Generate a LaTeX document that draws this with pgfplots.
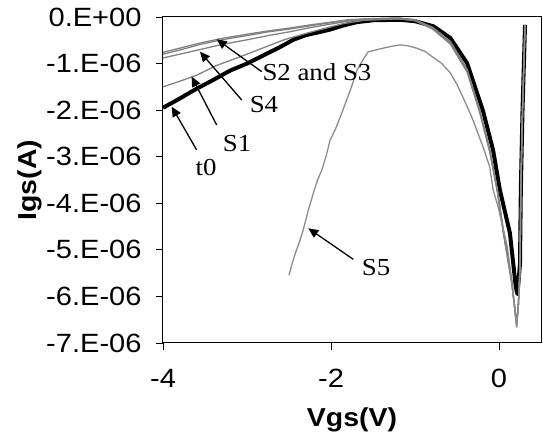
\documentclass[border=0pt]{standalone}
\usepackage{fontspec}
\setmainfont[FakeStretch=1.1]{Liberation Sans}
\newfontfamily\seriffont[FakeStretch=1.1]{Liberation Serif}
\usepackage{pgfplots}
\pgfplotsset{compat=1.18}
\usetikzlibrary{arrows.meta}
\definecolor{cgray}{RGB}{128,128,128}
\definecolor{cgrayb}{RGB}{140,140,140}
\begin{document}
\begin{tikzpicture}
\begin{axis}[
  name=ax,
  scale only axis,
  width=378bp, height=326bp,
  xmin=-4, xmax=0.5, ymin=-7, ymax=0,
  xtick={-4,-2,0}, xticklabels={{-4},{-2},{0}},
  ytick={-7,-6,-5,-4,-3,-2,-1,0},
  yticklabels={{-7.E-06},{-6.E-06},{-5.E-06},{-4.E-06},{-3.E-06},{-2.E-06},{-1.E-06},{0.E+00}},
  tick align=outside, tick pos=left,
  major tick length=7bp,
  axis line style={line width=1pt},
  every tick/.style={line width=0.8pt, black},
  ticklabel style={font=\fontsize{26.5}{30}\selectfont},
  /pgf/number format/assume math mode=true,
  yticklabel style={xshift=-11bp},
  xticklabel style={yshift=-16bp},
  xlabel={\bfseries Vgs(V)},
  ylabel={\bfseries Igs(A)},
  label style={font=\fontsize{26}{30}\selectfont},
  xlabel style={at={(axis description cs:0.5,0)}, anchor=center, yshift=-77bp},
  ylabel style={at={(axis description cs:-0.352,0.5)}, anchor=center},
  clip=false,
]
% t0 (black thick)
\addplot[black, line width=4pt, line join=round] coordinates {
(-4.00,-1.95) (-3.80,-1.75) (-3.60,-1.54) (-3.40,-1.35) (-3.20,-1.15)
(-3.00,-1.00) (-2.80,-0.82) (-2.60,-0.64) (-2.45,-0.49) (-2.30,-0.39)
(-2.15,-0.33) (-2.01,-0.27) (-1.85,-0.18) (-1.69,-0.11) (-1.50,-0.07)
(-1.18,-0.06) (-1.00,-0.09) (-0.78,-0.20) (-0.58,-0.45) (-0.38,-0.99)
(-0.19,-2.02) (-0.07,-2.86) (0.01,-3.71) (0.13,-4.64) (0.20,-5.80)
(0.22,-5.95) (0.25,-5.30) (0.26,-3.70) (0.28,-2.00) (0.31,-0.17)
};
% S1
\addplot[cgray, line width=1.3pt, line join=round] coordinates {
(-4.00,-1.50) (-3.80,-1.38) (-3.60,-1.25) (-3.36,-1.04) (-3.15,-0.90)
(-2.96,-0.77) (-2.76,-0.63) (-2.56,-0.49) (-2.35,-0.38) (-2.15,-0.28)
(-1.85,-0.14) (-1.60,-0.07) (-1.20,-0.04) (-1.00,-0.07) (-0.79,-0.24)
(-0.58,-0.54) (-0.38,-1.14) (-0.23,-2.00) (-0.11,-2.86) (-0.02,-3.71)
(0.05,-4.57) (0.15,-5.65) (0.21,-6.60) (0.23,-6.20) (0.25,-5.40)
(0.26,-3.70) (0.28,-2.00) (0.31,-0.17)
};
% S2
\addplot[cgray, line width=1.3pt, line join=round] coordinates {
(-4.00,-0.76) (-3.78,-0.66) (-3.56,-0.56) (-3.30,-0.46) (-3.00,-0.37)
(-2.75,-0.30) (-2.50,-0.24) (-2.25,-0.17) (-2.00,-0.11) (-1.80,-0.06)
(-1.60,-0.04) (-1.20,-0.02) (-1.00,-0.06) (-0.79,-0.22) (-0.58,-0.52)
(-0.38,-1.12) (-0.23,-1.98) (-0.11,-2.84) (-0.02,-3.70) (0.05,-4.55)
(0.15,-5.62) (0.21,-6.65) (0.23,-6.20) (0.25,-5.40) (0.26,-3.70)
(0.28,-2.00) (0.31,-0.17)
};
% S3
\addplot[cgray, line width=1.3pt, line join=round] coordinates {
(-4.00,-0.80) (-3.78,-0.70) (-3.56,-0.59) (-3.30,-0.49) (-3.00,-0.40)
(-2.75,-0.32) (-2.50,-0.26) (-2.25,-0.19) (-2.00,-0.12) (-1.80,-0.07)
(-1.60,-0.05) (-1.20,-0.03) (-1.00,-0.07) (-0.79,-0.25) (-0.58,-0.56)
(-0.38,-1.16) (-0.23,-2.02) (-0.11,-2.88) (-0.02,-3.73) (0.05,-4.60)
(0.15,-5.68) (0.21,-6.62) (0.23,-6.20) (0.25,-5.40) (0.26,-3.70)
(0.28,-2.00) (0.31,-0.17)
};
% S4
\addplot[cgray, line width=1.3pt, line join=round] coordinates {
(-4.00,-0.88) (-3.78,-0.79) (-3.56,-0.70) (-3.30,-0.59) (-3.00,-0.49)
(-2.75,-0.40) (-2.50,-0.32) (-2.25,-0.23) (-2.00,-0.15) (-1.80,-0.09)
(-1.60,-0.06) (-1.20,-0.04) (-1.00,-0.08) (-0.79,-0.26) (-0.58,-0.58)
(-0.38,-1.18) (-0.23,-2.05) (-0.11,-2.90) (-0.02,-3.75) (0.05,-4.62)
(0.15,-5.70) (0.21,-6.55) (0.23,-6.20) (0.25,-5.40) (0.26,-3.70)
(0.28,-2.00) (0.31,-0.17)
};
% S5
\addplot[cgrayb, line width=1.3pt, line join=round] coordinates {
(-2.50,-5.54) (-2.46,-5.28) (-2.42,-5.05) (-2.37,-4.80) (-2.33,-4.57)
(-2.27,-4.15) (-2.21,-3.78) (-2.16,-3.50) (-2.11,-3.29) (-2.06,-3.00)
(-2.01,-2.64) (-1.95,-2.42) (-1.89,-2.15) (-1.83,-1.86) (-1.77,-1.57)
(-1.73,-1.36) (-1.69,-1.14) (-1.62,-0.92) (-1.56,-0.75) (-1.47,-0.71)
(-1.38,-0.67) (-1.28,-0.63) (-1.18,-0.60) (-1.08,-0.62) (-0.98,-0.67)
(-0.88,-0.74) (-0.79,-0.86) (-0.68,-1.00) (-0.58,-1.20) (-0.50,-1.45)
(-0.43,-1.72) (-0.37,-1.96) (-0.31,-2.21) (-0.25,-2.50) (-0.19,-2.79)
(-0.11,-3.22) (-0.07,-3.71) (-0.01,-4.08) (0.10,-4.94) (0.16,-5.80)
(0.21,-6.66) (0.23,-6.20) (0.25,-5.40) (0.26,-3.70) (0.28,-2.00) (0.31,-0.20)
};
% annotations
\tikzset{ann/.style={-{Triangle[length=10bp,width=9bp]}, line width=1.3pt, black}}
\draw[ann] (axis cs:-3.599,-2.856) -- (axis cs:-3.896,-1.926);
\draw[ann] (axis cs:-3.361,-2.319) -- (axis cs:-3.659,-1.281);
\draw[ann] (axis cs:-3.063,-1.782) -- (axis cs:-3.560,-0.745);
\draw[ann] (axis cs:-2.825,-1.174) -- (axis cs:-3.361,-0.479);
\draw[ann] (axis cs:-1.734,-5.204) -- (axis cs:-2.270,-4.538);
\tikzset{lab/.style={font=\seriffont\fontsize{24.5}{28}\selectfont, inner sep=0pt, anchor=center}}
\node[lab] at (axis cs:-3.488,-3.24) {t0};
\node[lab] at (axis cs:-3.119,-2.71) {S1};
\node[lab] at (axis cs:-2.798,-1.89) {S4};
\node[lab] at (axis cs:-2.167,-1.18) {S2 and S3};
\node[lab] at (axis cs:-1.464,-5.39) {S5};
\end{axis}
\path ([xshift=-163bp,yshift=-98bp]ax.south west) rectangle ([xshift=2bp,yshift=17bp]ax.north east);
\end{tikzpicture}
\end{document}
